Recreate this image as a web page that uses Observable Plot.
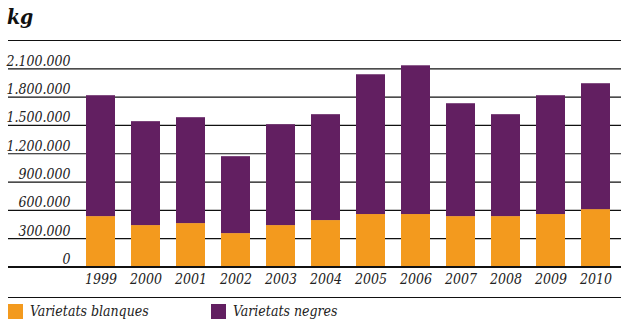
<!DOCTYPE html>
<html><head><meta charset="utf-8">
<script src="https://cdn.jsdelivr.net/npm/d3@7"></script>
<script src="https://cdn.jsdelivr.net/npm/@observablehq/plot@0.6"></script>
<style>
body{margin:0;background:#fff;font-family:'DejaVu Serif Condensed',serif;}
#wrap{position:relative;width:621px;height:323px;overflow:hidden;}
#title{position:absolute;left:7px;top:4px;font-family:'DejaVu Serif Condensed',serif;font-style:italic;font-weight:bold;font-size:21px;color:#111;}
#bottomline{position:absolute;left:8px;right:0;top:297px;border-top:1.5px solid #111;}
#legend{position:absolute;left:8px;top:303px;font-family:'DejaVu Serif Condensed',serif;font-style:italic;font-size:14px;color:#222;}
.item{position:absolute;top:0;white-space:nowrap;}
.sw{display:inline-block;width:15px;height:15px;vertical-align:top;margin-right:7px;margin-top:1px;}
#chart{position:absolute;left:0;top:0;}
</style></head>
<body><div id="wrap"><div id="chart"></div><div id="title">kg</div><div id="bottomline"></div><div id="legend"></div></div>
<script>
const years = ["1999","2000","2001","2002","2003","2004","2005","2006","2007","2008","2009","2010"];
const blanques = [534000, 439000, 460000, 354000, 439000, 492000, 556000, 556000, 534000, 534000, 556000, 608000];
const totals = [1815000, 1540000, 1582000, 1169000, 1508000, 1614000, 2037000, 2132000, 1730000, 1614000, 1815000, 1942000];
const negres = totals.map((t, i) => t - blanques[i]);
const seriesNames = ["Varietats blanques", "Varietats negres"];
const seriesColors = ["#f39a1e", "#621f61"];
const gridTicks = [0, 300000, 600000, 900000, 1200000, 1500000, 1800000, 2100000, 2400000];
const labelTicks = [0, 300000, 600000, 900000, 1200000, 1500000, 1800000, 2100000];

const data = [];
years.forEach((y, i) => {
  data.push({year: y, series: seriesNames[0], value: blanques[i]});
  data.push({year: y, series: seriesNames[1], value: negres[i]});
});
const fmt = v => v === 0 ? "0" : d3.format(",")(v).replace(/,/g, ".");
const FONT = "DejaVu Serif Condensed, serif";

const chart = Plot.plot({
  width: 621, height: 300,
  marginTop: 40, marginBottom: 33.5, marginLeft: 85, marginRight: 10,
  x: {domain: years, paddingInner: 0.36, paddingOuter: 0, axis: null},
  y: {domain: [0, 2400000], axis: null},
  color: {domain: seriesNames, range: seriesColors},
  style: {fontFamily: FONT, background: "transparent"},
  marks: [
    Plot.ruleY(gridTicks, {stroke: "#111", strokeWidth: 1.2, insetLeft: -77, insetRight: -10}),
    Plot.barY(data, Plot.stackY({x: "year", y: "value", fill: "series", order: seriesNames})),
    Plot.ruleY([0], {stroke: "#111", strokeWidth: 1.8, insetLeft: -77, insetRight: -10}),
    Plot.text(labelTicks, {y: d => d, text: fmt, frameAnchor: "left", dx: -15, dy: -3, textAnchor: "end", lineAnchor: "bottom", fontSize: 14, fontStyle: "italic", fontFamily: FONT, fill: "#222"}),
    Plot.text(years, {x: d => d, text: d => d, frameAnchor: "bottom", dy: 17, fontSize: 14, fontStyle: "italic", fontFamily: FONT, fill: "#222"})
  ]
});
document.getElementById("chart").appendChild(chart);

const legend = document.getElementById("legend");
const lx = [0, 203];
seriesNames.forEach((n, i) => {
  const it = document.createElement("div");
  it.className = "item";
  it.style.left = lx[i] + "px";
  it.innerHTML = `<span class="sw" style="background:${seriesColors[i]}"></span>${n}`;
  legend.appendChild(it);
});
</script></body></html>
